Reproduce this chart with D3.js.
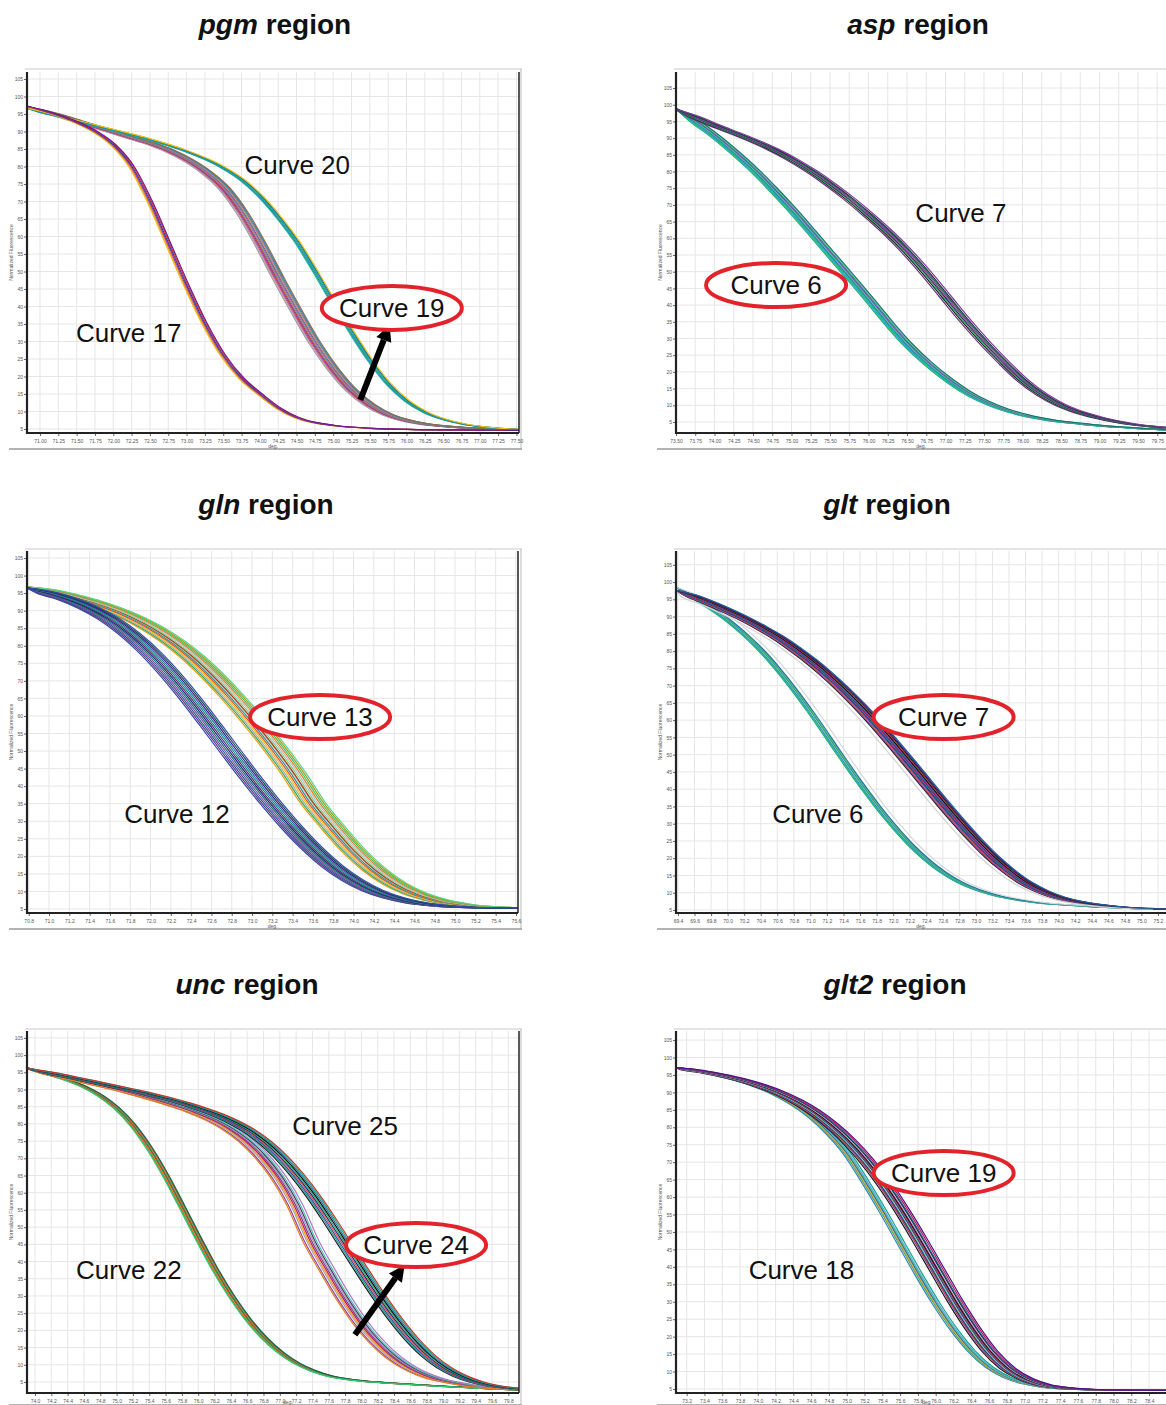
<!DOCTYPE html>
<html lang="en">
<head>
<meta charset="UTF-8">
<title>Melt curves by region</title>
<style>
  body { margin: 0; background: #fff; }
  svg { display: block; font-family: Arial, "Liberation Sans", sans-serif; }
</style>
</head>
<body>
<svg id="chart" width="1166" height="1405"></svg>
<script src="https://d3js.org/d3.v7.min.js"></script>
<script>
// y ticks shared by every panel
const yTicks = d3.range(5, 106, 5);

// ---- pgm region ----
const pgmXTicks = [71.00, 77.50, 0.25];
const pgm17 = [[70.82,97.3],[71.0,96.2],[71.25,94.6],[71.5,92.6],[71.75,90],[72.0,86.2],[72.25,80],[72.5,70],[72.75,58],[73.0,46],[73.25,35],[73.5,26],[73.75,19.5],[74.0,15],[74.25,11],[74.5,8.3],[74.75,6.8],[75.0,6.0],[75.5,5.2],[76.0,4.9],[77.0,4.7],[77.55,4.6]];
const pgm19 = [[70.82,97.0],[71.0,96.0],[71.25,94.6],[71.5,93.0],[71.75,91.4],[72.0,89.8],[72.25,88.2],[72.5,86.6],[72.75,84.6],[73.0,82.0],[73.25,78.6],[73.5,74],[73.75,67],[74.0,58],[74.25,48],[74.5,38.5],[74.75,29.5],[75.0,22],[75.25,16],[75.5,11.8],[75.75,9],[76.0,7.4],[76.25,6.4],[76.5,5.8],[76.75,5.4],[77.0,5.1],[77.55,4.8]];
const pgm20 = [[70.82,96.6],[71.0,95.6],[71.25,94.3],[71.5,93],[71.75,91.7],[72.0,90.4],[72.25,89.1],[72.5,87.7],[72.75,86.1],[73.0,84.3],[73.25,82.2],[73.5,79.6],[73.75,76.2],[74.0,71.5],[74.25,65.5],[74.5,58.5],[74.75,50],[75.0,41],[75.25,32.5],[75.5,24.5],[75.75,17.8],[76.0,13],[76.25,9.8],[76.5,7.8],[76.75,6.5],[77.0,5.7],[77.25,5.2],[77.55,4.8]];
const pgm17Shift = [-0.04,-0.025,-0.01,0.005,0.02,0.035];
const pgm19Shift = [-0.08,-0.065,-0.05,-0.035,-0.02,-0.005,0.01,0.025,0.04,0.055,0.07,0.085];
const pgm20Shift = [-0.03,-0.015,0,0.015,0.03,0.045];
const pgm17Colors = ["#f0c419","#ff8c1a","#8e44ad","#2c3e99","#e03030","#6a1b9a"];
const pgm19Colors = ["#9a9a9a","#b0b0b0","#e05a8a","#8e44ad","#c0392b","#7f8c8d","#a569bd","#5d6d7e","#d98880","#808080","#2e86c1","#8b6f47"];
const pgm20Colors = ["#1abc9c","#2980b9","#27ae60","#17a2b8","#0e6ba8","#f1c40f"];

// ---- asp region ----
const aspXTicks = [73.50, 79.75, 0.25];
const asp6 = [[73.48,99.2],[73.75,95],[74.0,90.8],[74.25,86],[74.5,80.8],[74.75,75],[75.0,68.8],[75.25,62.2],[75.5,55.5],[75.75,48.8],[76.0,42],[76.25,35],[76.5,28.5],[76.75,23],[77.0,18.3],[77.25,14.3],[77.5,11.2],[77.75,8.9],[78.0,7.2],[78.25,6.0],[78.5,5.1],[78.75,4.5],[79.0,3.9],[79.25,3.5],[79.5,3.1],[79.75,2.8],[79.9,2.6]];
const asp7 = [[73.48,98.8],[73.75,96.2],[74.0,93.8],[74.25,91.6],[74.5,89.3],[74.75,86.7],[75.0,83.7],[75.25,80.2],[75.5,76.2],[75.75,71.8],[76.0,67],[76.25,61.8],[76.5,56],[76.75,49.5],[77.0,42.5],[77.25,35.5],[77.5,29],[77.75,23],[78.0,17.5],[78.25,13.2],[78.5,10],[78.75,7.8],[79.0,6.2],[79.25,5.0],[79.5,4.1],[79.75,3.5],[79.9,3.2]];
const asp6Shift = [-0.07,-0.06,-0.045,-0.03,-0.02,-0.01,0,0.01,0.02,0.035,0.05,0.065];
const asp7Shift = [-0.08,-0.05,-0.03,-0.01,0.01,0.03,0.05,0.08];
const asp6Colors = ["#16a085","#2ecc71","#3498db","#1abc9c","#27ae60","#2471a3","#48c9b0","#5dade2","#8e44ad","#229954","#7fb3d5","#117a65"];
const asp7Colors = ["#6c3483","#1c1c1c","#27ae60","#4a235a","#8e44ad","#196f3d","#2c2c54","#7d3c98"];

// ---- gln region ----
const glnXTicks = [70.8, 75.6, 0.2];
const gln12 = [[70.78,96.5],[71.0,95.0],[71.2,93.2],[71.4,90.8],[71.6,87.6],[71.8,83.4],[72.0,78.2],[72.2,72],[72.4,65],[72.6,57.5],[72.8,49.8],[73.0,42.2],[73.2,35],[73.4,28.3],[73.6,22.3],[73.8,17.2],[74.0,13.2],[74.2,10.2],[74.4,8.2],[74.6,6.9],[74.8,6.1],[75.0,5.6],[75.2,5.4],[75.4,5.3],[75.62,5.2]];
const gln13 = [[70.78,96.8],[71.0,95.6],[71.2,94.2],[71.4,92.6],[71.6,90.6],[71.8,88.2],[72.0,85.2],[72.2,81.5],[72.4,77],[72.6,71.6],[72.8,65.5],[73.0,58.8],[73.2,51.6],[73.4,43.8],[73.6,35],[73.8,28],[74.0,21.5],[74.2,16.2],[74.4,12.2],[74.6,9.4],[74.8,7.6],[75.0,6.5],[75.2,5.8],[75.4,5.5],[75.62,5.3]];
const gln12Shift = [-0.12,-0.1,-0.08,-0.06,-0.04,-0.02,0,0.02,0.04,0.06,0.08,0.1];
const gln13Shift = [-0.12,-0.1,-0.08,-0.06,-0.04,-0.02,0,0.01,0.03,0.05,0.07,0.09,0.11,0.13];
const gln12Colors = ["#2e4aa8","#6c3483","#1f618d","#8e44ad","#117a65","#1a237e","#5b2c6f","#148f77","#2874a6","#4a148c","#0b5345","#3949ab"];
const gln13Colors = ["#f39c12","#27ae60","#aaaaaa","#f1c40f","#e74c3c","#16a085","#d5a6bd","#a04000","#7dcea0","#c0c0c0","#e67e22","#2ecc71","#b7950b","#58d68d"];

// ---- glt region ----
const gltXTicks = [69.4, 75.2, 0.2];
const glt6 = [[69.37,98.6],[69.6,95.5],[69.8,92.4],[70.0,89],[70.2,85],[70.4,80.4],[70.6,75],[70.8,69],[71.0,62.5],[71.2,55.6],[71.4,48.6],[71.6,41.8],[71.8,35.4],[72.0,29.5],[72.2,24.2],[72.4,19.7],[72.6,16],[72.8,13.1],[73.0,11],[73.2,9.5],[73.4,8.4],[73.6,7.6],[73.8,7.0],[74.0,6.6],[74.4,6.0],[74.8,5.6],[75.3,5.3]];
const glt7 = [[69.37,97.6],[69.6,95.8],[69.8,93.9],[70.0,91.8],[70.2,89.5],[70.4,87],[70.6,84.2],[70.8,81],[71.0,77.4],[71.2,73.4],[71.4,69],[71.6,64.2],[71.8,59],[72.0,53.5],[72.2,47.8],[72.4,42],[72.6,36.2],[72.8,30.6],[73.0,25.3],[73.2,20.5],[73.4,16.4],[73.6,13],[73.8,10.5],[74.0,8.7],[74.2,7.5],[74.4,6.7],[74.6,6.1],[74.8,5.7],[75.0,5.4],[75.3,5.2]];
const glt6Shift = [-0.04,-0.03,-0.015,0,0.01,0.02,0.035,0.09];
const glt7Shift = [-0.1,-0.085,-0.07,-0.055,-0.04,-0.03,-0.02,-0.01,0,0.01,0.02,0.035,0.05,0.065,-0.16,0.08];
const glt6Colors = ["#27ae60","#1abc9c","#2e86c1","#7dcea0","#148f77","#52be80","#2471a3","#d5d8dc"];
const glt7Colors = ["#1c1c1c","#7d3c98","#e74c3c","#2e4aa8","#1a237e","#16a085","#c2185b","#5b2c6f","#2874a6","#8e44ad","#000000","#b03a2e","#17202a","#4a148c","#d0d3d4","#1f618d"];

// ---- unc region ----
const uncXTicks = [74.0, 79.8, 0.2];
const unc22 = [[73.9,96.3],[74.0,95.6],[74.2,94.2],[74.4,92.7],[74.6,90.8],[74.8,88.2],[75.0,84.6],[75.2,79.6],[75.4,73],[75.6,65],[75.8,56],[76.0,46.8],[76.2,38],[76.4,30.2],[76.6,23.5],[76.8,18],[77.0,13.7],[77.2,10.5],[77.4,8.3],[77.6,6.8],[77.8,5.9],[78.0,5.3],[78.4,4.6],[78.8,4.0],[79.2,3.5],[79.6,3.0],[79.93,2.7]];
const unc24 = [[73.9,96.1],[74.2,94.6],[74.4,93.5],[74.6,92.5],[74.8,91.4],[75.0,90.3],[75.2,89.1],[75.4,87.8],[75.6,86.4],[75.8,84.9],[76.0,83.2],[76.2,81.2],[76.4,78.6],[76.6,75.2],[76.8,70.6],[77.0,64.6],[77.2,56.6],[77.4,46],[77.6,37.5],[77.8,29.5],[78.0,22.5],[78.2,16.8],[78.4,12.4],[78.6,9.2],[78.8,7.0],[79.0,5.5],[79.2,4.6],[79.4,3.8],[79.6,3.3],[79.93,2.8]];
const unc25 = [[73.9,96.1],[74.2,94.7],[74.4,93.7],[74.6,92.7],[74.8,91.7],[75.0,90.7],[75.2,89.7],[75.4,88.6],[75.6,87.4],[75.8,86.1],[76.0,84.6],[76.2,82.9],[76.4,80.8],[76.6,78.2],[76.8,74.8],[77.0,70.5],[77.2,65.2],[77.4,59],[77.6,52],[77.8,44.6],[78.0,37.2],[78.2,30],[78.4,23.4],[78.6,17.6],[78.8,12.8],[79.0,9.2],[79.2,6.7],[79.4,5.0],[79.6,3.9],[79.93,3.0]];
const unc22Shift = [-0.03,-0.02,-0.01,0,0.005,0.01,0.02,0.03,0.04,-0.04];
const unc24Shift = [-0.1,-0.07,-0.05,-0.03,-0.01,0.01,0.03,0.05,0.08,-0.12];
const unc25Shift = [-0.08,-0.06,-0.04,-0.02,0,0.02,0.04,0.06,0.08,0.1];
const unc22Colors = ["#27ae60","#e74c3c","#f39c12","#196f3d","#16a085","#c0392b","#52be80","#d35400","#0e6655","#2ecc71"];
const unc24Colors = ["#8e44ad","#a6a6a6","#f39c12","#c2185b","#7d3c98","#95a5a6","#5b2c6f","#48c9b0","#af7ac5","#e67e22"];
const unc25Colors = ["#1c1c1c","#16a085","#2e4aa8","#e74c3c","#1a237e","#27ae60","#000000","#2874a6","#17a589","#c0392b"];

// ---- glt2 region ----
const glt2XTicks = [73.2, 78.4, 0.2];
const glt2_18 = [[73.08,97.1],[73.2,96.6],[73.4,95.7],[73.6,94.6],[73.8,93.3],[74.0,91.6],[74.2,89.4],[74.4,86.6],[74.6,83],[74.8,78.3],[75.0,72.4],[75.2,64.5],[75.4,56],[75.6,47],[75.8,38],[76.0,29.5],[76.2,22],[76.4,15.8],[76.6,11.2],[76.8,8.3],[77.0,6.6],[77.2,5.6],[77.4,5.1],[77.6,4.9],[78.0,4.7],[78.59,4.6]];
const glt2_19 = [[73.08,97.1],[73.2,96.6],[73.4,95.8],[73.6,94.8],[73.8,93.6],[74.0,92.1],[74.2,90.2],[74.4,87.8],[74.6,84.8],[74.8,81],[75.0,76.4],[75.2,70.8],[75.4,64.2],[75.6,56.6],[75.8,48.2],[76.0,39.4],[76.2,30.6],[76.4,22.6],[76.6,15.8],[76.8,10.9],[77.0,7.9],[77.2,6.2],[77.4,5.4],[77.6,5.0],[78.0,4.7],[78.59,4.6]];
const glt2_18Shift = [-0.04,-0.02,-0.01,0,0.01,0.02,0.03,0.05];
const glt2_19Shift = [-0.08,-0.06,-0.05,-0.04,-0.03,-0.02,-0.01,0,0.01,0.02,0.03,0.04,0.05,0.06,0.08,0.1];
const glt2_18Colors = ["#2e86c1","#27ae60","#f39c12","#a6a6a6","#1f618d","#52be80","#5dade2","#17a589"];
const glt2_19Colors = ["#1c1c1c","#7d3c98","#e74c3c","#1a237e","#16a085","#c8c8c8","#5b2c6f","#2874a6","#b03a2e","#000000","#8e44ad","#d5d8dc","#17202a","#1f618d","#c2185b","#4a148c"];

// panel setup: frame = screenshot box, plot = inner axes box, domains in deg / fluorescence
const panels = [
  { gene: "pgm", title: [275, 34], frame: [9, 68, 522, 449], plot: [27, 72, 519, 433],
    xDomain: [70.823, 77.535], yDomain: [3.86, 107], xTicks: pgmXTicks, fmt: ".2f", rightEdge: true,
    groups: [[pgm19, pgm19Shift, pgm19Colors], [pgm20, pgm20Shift, pgm20Colors], [pgm17, pgm17Shift, pgm17Colors]],
    labels: [["Curve 20", 74.51, 80.4, false], ["Curve 17", 72.21, 32.4, false], ["Curve 19", 75.80, 39.6, true]],
    arrow: [75.37, 13.3, 75.77, 34.7] },
  { gene: "asp", title: [918, 34], frame: [657, 68, 1166, 449], plot: [676, 72, 1166, 433],
    xDomain: [73.5, 79.864], yDomain: [1.7, 109.8], xTicks: aspXTicks, fmt: ".2f", rightEdge: false,
    groups: [[asp6, asp6Shift, asp6Colors], [asp7, asp7Shift, asp7Colors]],
    labels: [["Curve 7", 77.20, 67.6, false], ["Curve 6", 74.80, 46, true]] },
  { gene: "gln", title: [266, 514], frame: [9, 548, 522, 929], plot: [27, 551, 518, 913],
    xDomain: [70.783, 75.62], yDomain: [3.86, 107], xTicks: glnXTicks, fmt: ".1f", rightEdge: true,
    groups: [[gln13, gln13Shift, gln13Colors], [gln12, gln12Shift, gln12Colors]],
    labels: [["Curve 13", 73.67, 59.7, true], ["Curve 12", 72.26, 32.1, false]] },
  { gene: "glt", title: [887, 514], frame: [657, 548, 1166, 929], plot: [676, 551, 1166, 913],
    xDomain: [69.376, 75.297], yDomain: [4.13, 109], xTicks: gltXTicks, fmt: ".1f", rightEdge: false,
    groups: [[glt6, glt6Shift, glt6Colors], [glt7, glt7Shift, glt7Colors]],
    labels: [["Curve 7", 72.61, 60.9, true], ["Curve 6", 71.09, 32.8, false]] },
  { gene: "unc", title: [247, 994], frame: [9, 1028, 522, 1405], plot: [27, 1031, 519, 1393],
    xDomain: [73.902, 79.931], yDomain: [1.8, 107], xTicks: uncXTicks, fmt: ".1f", rightEdge: true,
    groups: [[unc22, unc22Shift, unc22Colors], [unc24, unc24Shift, unc24Colors], [unc25, unc25Shift, unc25Colors]],
    labels: [["Curve 25", 77.80, 79.4, false], ["Curve 22", 75.15, 37.6, false], ["Curve 24", 78.67, 44.8, true]],
    arrow: [77.92, 18.7, 78.53, 39] },
  { gene: "glt2", title: [895, 994], frame: [657, 1028, 1166, 1405], plot: [676, 1031, 1166, 1393],
    xDomain: [73.08, 78.59], yDomain: [3.85, 107.6], xTicks: glt2XTicks, fmt: ".1f", rightEdge: false,
    groups: [[glt2_18, glt2_18Shift, glt2_18Colors], [glt2_19, glt2_19Shift, glt2_19Colors]],
    labels: [["Curve 19", 76.09, 66.9, true], ["Curve 18", 74.49, 39.1, false]] }
];

const svg = d3.select("#chart");

panels.forEach((p, pi) => {
  const [fx0, fy0, fx1, fy1] = p.frame;
  const [px0, py0, px1, py1] = p.plot;
  const x = d3.scaleLinear().domain(p.xDomain).range([px0, px1]);
  const y = d3.scaleLinear().domain(p.yDomain).range([py1, py0]);
  const xt = d3.range(p.xTicks[0], p.xTicks[1] + p.xTicks[2] / 2, p.xTicks[2]);
  const g = svg.append("g");

  // title
  const t = g.append("text")
    .attr("x", p.title[0]).attr("y", p.title[1])
    .attr("text-anchor", "middle")
    .attr("font-size", 28).attr("font-weight", "bold").attr("fill", "#111");
  t.append("tspan").attr("font-style", "italic").text(p.gene);
  t.append("tspan").text(" region");

  // screenshot frame
  g.append("line").attr("x1", px0 - 2).attr("x2", fx1).attr("y1", fy0 + 1).attr("y2", fy0 + 1)
    .attr("stroke", "#c8c8c8").attr("stroke-width", 1);
  if (p.rightEdge) {
    g.append("line").attr("x1", fx1 - 1).attr("x2", fx1 - 1).attr("y1", fy0 + 1).attr("y2", fy1)
      .attr("stroke", "#b8b8b8").attr("stroke-width", 1);
  }
  g.append("line").attr("x1", fx0).attr("x2", fx1).attr("y1", fy1).attr("y2", fy1)
    .attr("stroke", "#9a9a9a").attr("stroke-width", 1.5);

  // grid
  g.append("g").selectAll("line").data(xt).join("line")
    .attr("x1", d => x(d)).attr("x2", d => x(d)).attr("y1", py0).attr("y2", py1)
    .attr("stroke", "#e6e6e6").attr("stroke-width", 1);
  g.append("g").selectAll("line").data(yTicks).join("line")
    .attr("x1", px0).attr("x2", px1).attr("y1", d => y(d)).attr("y2", d => y(d))
    .attr("stroke", "#e6e6e6").attr("stroke-width", 1);

  // curves
  const clipId = "clip" + pi;
  g.append("clipPath").attr("id", clipId).append("rect")
    .attr("x", px0).attr("y", py0).attr("width", px1 - px0).attr("height", py1 - py0);
  const line = d3.line().x(d => x(d[0])).y(d => y(d[1])).curve(d3.curveMonotoneX);
  const curves = g.append("g").attr("clip-path", `url(#${clipId})`);
  p.groups.forEach(([base, shifts, colors]) => {
    shifts.forEach((s, i) => {
      const pts = base.map(([d, v], k) => [k === 0 ? d : d + s, v]);
      curves.append("path").datum(pts)
        .attr("fill", "none").attr("stroke", colors[i]).attr("stroke-width", 1.2)
        .attr("d", line);
    });
  });

  // axes
  const ya = g.append("g").attr("transform", `translate(${px0},0)`)
    .call(d3.axisLeft(y).tickValues(yTicks).tickSize(3).tickPadding(1));
  const xa = g.append("g").attr("transform", `translate(0,${py1})`)
    .call(d3.axisBottom(x).tickValues(xt).tickFormat(d3.format(p.fmt)).tickSize(3).tickPadding(3));
  [ya, xa].forEach(a => {
    a.select(".domain").remove();
    a.selectAll("text").attr("font-size", 5).attr("fill", "#555").attr("font-family", "Arial, sans-serif");
    a.selectAll("line").attr("stroke", "#666");
  });
  g.append("line").attr("x1", px0).attr("x2", px0).attr("y1", py0).attr("y2", py1 + 1)
    .attr("stroke", "#222").attr("stroke-width", 2.2);
  g.append("line").attr("x1", px0 - 1).attr("x2", px1).attr("y1", py1).attr("y2", py1)
    .attr("stroke", "#222").attr("stroke-width", 2.2);
  if (p.rightEdge) {
    g.append("line").attr("x1", px1).attr("x2", px1).attr("y1", py0).attr("y2", py1)
      .attr("stroke", "#222").attr("stroke-width", 1.5);
  }

  // axis titles: "deg." sits under the tick labels; at the page bottom it goes between two ticks
  const mid = (px0 + Math.min(px1, fx1)) / 2;
  const roomBelow = fy1 - py1 > 14;
  let degX = mid;
  if (!roomBelow) {
    const near = xt.reduce((a, b) => Math.abs(x(b) - mid) < Math.abs(x(a) - mid) ? b : a);
    degX = x(near) + (x(xt[1]) - x(xt[0])) / 2;
  }
  g.append("text").attr("x", degX).attr("y", roomBelow ? py1 + 15 : fy1 - 1)
    .attr("text-anchor", "middle").attr("font-size", 5).attr("fill", "#555").text("deg.");
  g.append("text")
    .attr("transform", `translate(${px0 - 14},${(py0 + py1) / 2}) rotate(-90)`)
    .attr("text-anchor", "middle").attr("font-size", 5).attr("fill", "#555")
    .text("Normalized Fluorescence");

  // arrow annotation
  if (p.arrow) {
    const [d1, v1, d2, v2] = p.arrow;
    const ax1 = x(d1), ay1 = y(v1), ax2 = x(d2), ay2 = y(v2);
    const ang = Math.atan2(ay2 - ay1, ax2 - ax1);
    const hl = 16, hw = 8;
    const bx = ax2 - hl * Math.cos(ang), by = ay2 - hl * Math.sin(ang);
    g.append("line").attr("x1", ax1).attr("y1", ay1).attr("x2", bx).attr("y2", by)
      .attr("stroke", "#000").attr("stroke-width", 6);
    g.append("polygon")
      .attr("points", [
        [ax2, ay2],
        [bx + hw * Math.sin(ang), by - hw * Math.cos(ang)],
        [bx - hw * Math.sin(ang), by + hw * Math.cos(ang)]
      ].map(q => q.join(",")).join(" "))
      .attr("fill", "#000");
  }

  // curve labels
  p.labels.forEach(([txt, d, v, ring]) => {
    const cx = x(d), cy = y(v);
    if (ring) {
      g.append("ellipse").attr("cx", cx).attr("cy", cy).attr("rx", 70).attr("ry", 22)
        .attr("fill", "#fff").attr("stroke", "#e3232b").attr("stroke-width", 4);
    }
    g.append("text").attr("x", cx).attr("y", cy).attr("dy", "0.36em")
      .attr("text-anchor", "middle").attr("font-size", 26).attr("fill", "#111")
      .text(txt);
  });
});
</script>
</body>
</html>
